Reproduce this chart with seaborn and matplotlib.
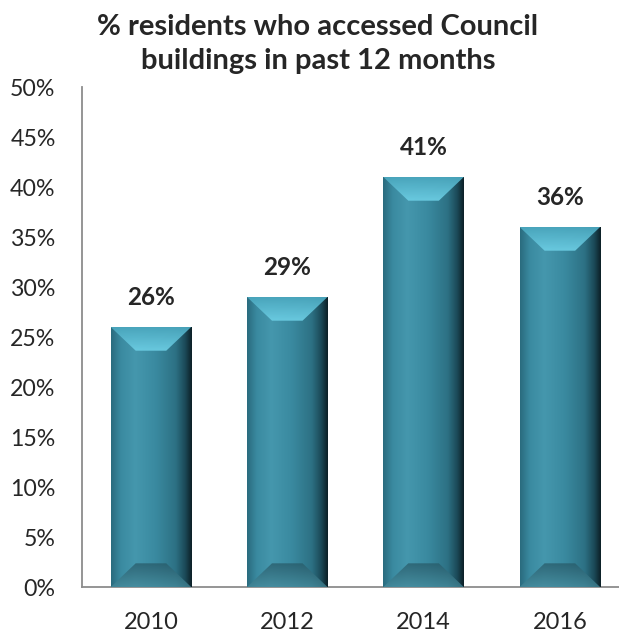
import numpy as np
import pandas as pd
import matplotlib
matplotlib.use("Agg")
import matplotlib.pyplot as plt
import seaborn as sns
from matplotlib.patches import Polygon
from matplotlib.colors import LinearSegmentedColormap

years = ["2010", "2012", "2014", "2016"]
values = [26, 29, 41, 36]
title = "% residents who accessed Council\nbuildings in past 12 months"

sns.set_theme(style="white")
plt.rcParams["font.family"] = ["Lato", "DejaVu Sans"]

df = pd.DataFrame({"year": years, "pct": values})

fig = plt.figure(figsize=(6.19, 6.32), dpi=100)
ax = fig.add_axes([82 / 619, 45 / 632, 537 / 619, 500 / 632])
sns.barplot(data=df, x="year", y="pct", color="#3a8aa0", width=0.59,
            saturation=1, ax=ax, edgecolor="none")
xlim = (-0.506, -0.506 + 537 / 136.3)
ax.set_ylim(0, 50)
ax.set_xlim(*xlim)
ax.set_yticks(range(0, 51, 5))
ax.set_yticklabels([f"{v}%" for v in range(0, 51, 5)], fontsize=16.7)
ax.tick_params(axis="x", labelsize=17, length=0, pad=18)
ax.tick_params(axis="y", length=0, pad=19)
ax.set_xlabel("")
ax.set_ylabel("")
for s in ["top", "right"]:
    ax.spines[s].set_visible(False)
for s in ["left", "bottom"]:
    ax.spines[s].set_color("#8c8c8c")
    ax.spines[s].set_linewidth(1.3)
fig.text(318 / 619, 1 - 14 / 632, title, ha="center", va="top",
         fontsize=21, fontweight="bold", linespacing=1.4)

hcmap = LinearSegmentedColormap.from_list("h", [
    (0.0, "#2a6b7e"), (0.12, "#3a8aa0"), (0.3, "#4597ad"), (0.55, "#3a8aa0"),
    (0.8, "#2d7184"), (0.92, "#1b4957"), (1.0, "#0c1f26")])
tcmap = LinearSegmentedColormap.from_list("t", ["#4aa6bd", "#6ccde3"])
bcmap = LinearSegmentedColormap.from_list("b", ["#468a9b", "#285a68"])

fig.canvas.draw()
inv = ax.transData.inverted()
def px_to_data(dx, dy):
    p0 = inv.transform((0, 0))
    p1 = inv.transform((dx, dy))
    return p1[0] - p0[0], p1[1] - p0[1]

grad_h = np.linspace(0, 1, 256).reshape(1, -1)
grad_v = np.linspace(0, 1, 64).reshape(-1, 1)

for patch, v in zip(list(ax.patches), values):
    x0 = patch.get_x(); w = patch.get_width(); h = patch.get_height()
    bbox = patch.get_window_extent()
    bpx = bbox.width * 0.31
    bx, by = px_to_data(bpx, bpx * 0.95)
    im = ax.imshow(grad_h, cmap=hcmap, extent=(x0, x0 + w, 0, h),
                   aspect="auto", zorder=3, interpolation="bicubic")
    im.set_clip_path(patch)
    top = Polygon([(x0, h), (x0 + w, h), (x0 + w - bx, h - by), (x0 + bx, h - by)],
                  closed=True, transform=ax.transData, facecolor="none", edgecolor="none")
    ax.add_patch(top)
    imt = ax.imshow(1 - grad_v, cmap=tcmap, extent=(x0, x0 + w, h - by, h),
                    aspect="auto", zorder=4, alpha=0.95, origin="lower")
    imt.set_clip_path(top)
    bot = Polygon([(x0, 0), (x0 + w, 0), (x0 + w - bx, by), (x0 + bx, by)],
                  closed=True, transform=ax.transData, facecolor="none", edgecolor="none")
    ax.add_patch(bot)
    imb = ax.imshow(grad_v, cmap=bcmap, extent=(x0, x0 + w, 0, by),
                    aspect="auto", zorder=4, alpha=0.75, origin="lower")
    imb.set_clip_path(bot)
    ax.text(x0 + w / 2, h + 1.8, f"{v}%", ha="center", va="bottom",
            fontsize=17.5, fontweight="bold", zorder=5)

ax.set_xlim(*xlim)
ax.set_ylim(0, 50)
fig.savefig("out.png", dpi=100)
